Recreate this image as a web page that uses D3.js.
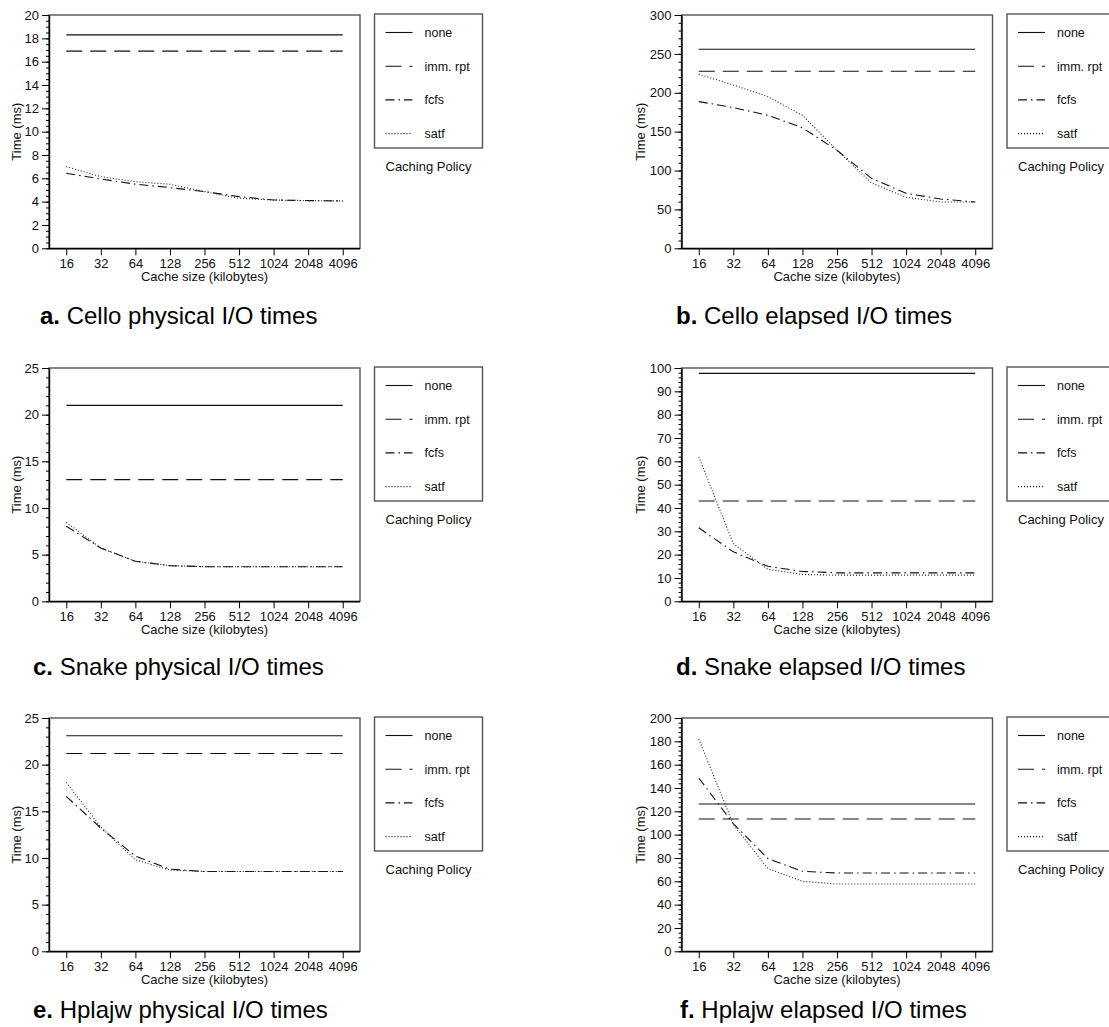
<!DOCTYPE html>
<html>
<head>
<meta charset="utf-8">
<script src="https://cdn.jsdelivr.net/npm/d3@7"></script>
<style>
  html, body { margin: 0; padding: 0; background: #fff; }
  svg { display: block; font-family: "Liberation Sans", Arial, Helvetica, sans-serif; }
</style>
</head>
<body>
<svg id="chart" width="1109" height="1027"></svg>
<script>
// ---------- data ----------
const categories = ["16", "32", "64", "128", "256", "512", "1024", "2048", "4096"];
const policies = ["none", "imm. rpt", "fcfs", "satf"];
const panelLetters = ["a.", "b.", "c.", "d.", "e.", "f."];
const panelTitles = [
  "Cello physical I/O times", "Cello elapsed I/O times",
  "Snake physical I/O times", "Snake elapsed I/O times",
  "Hplajw physical I/O times", "Hplajw elapsed I/O times"
];
const yMax = [20, 300, 25, 100, 25, 200];
const yMajorStep = [2, 50, 5, 10, 5, 20];
const yMinorStep = [0.5, 10, 1, 2, 1, 4];

// a. Cello physical
const aNone = [18.3, 18.3, 18.3, 18.3, 18.3, 18.3, 18.3, 18.3, 18.3];
const aImm  = [16.9, 16.9, 16.9, 16.9, 16.9, 16.9, 16.9, 16.9, 16.9];
const aFcfs = [6.43, 5.94, 5.5, 5.2, 4.86, 4.43, 4.14, 4.09, 4.06];
const aSatf = [7.0, 6.14, 5.71, 5.49, 4.86, 4.29, 4.14, 4.09, 4.06];
// b. Cello elapsed
const bNone = [255.9, 255.9, 255.9, 255.9, 255.9, 255.9, 255.9, 255.9, 255.9];
const bImm  = [227.6, 227.6, 227.6, 227.6, 227.6, 227.6, 227.6, 227.6, 227.6];
const bFcfs = [188.6, 181, 171, 155, 126, 90, 70.7, 63.4, 59.6];
const bSatf = [224, 210, 195, 171, 126, 84, 65.6, 59.6, 59.6];
// c. Snake physical
const cNone = [21, 21, 21, 21, 21, 21, 21, 21, 21];
const cImm  = [13.04, 13.04, 13.04, 13.04, 13.04, 13.04, 13.04, 13.04, 13.04];
const cFcfs = [8.04, 5.71, 4.29, 3.82, 3.71, 3.71, 3.71, 3.71, 3.71];
const cSatf = [8.46, 5.71, 4.29, 3.82, 3.71, 3.71, 3.71, 3.71, 3.71];
// d. Snake elapsed
const dNone = [97.7, 97.7, 97.7, 97.7, 97.7, 97.7, 97.7, 97.7, 97.7];
const dImm  = [43, 43, 43, 43, 43, 43, 43, 43, 43];
const dFcfs = [31.5, 21.2, 15, 12.8, 12.2, 12.2, 12.2, 12.2, 12.2];
const dSatf = [61.9, 24.7, 13.7, 11.5, 11.2, 11.2, 11.2, 11.2, 11.2];
// e. Hplajw physical
const eNone = [23.1, 23.1, 23.1, 23.1, 23.1, 23.1, 23.1, 23.1, 23.1];
const eImm  = [21.2, 21.2, 21.2, 21.2, 21.2, 21.2, 21.2, 21.2, 21.2];
const eFcfs = [16.6, 13.2, 10.2, 8.8, 8.55, 8.55, 8.55, 8.55, 8.55];
const eSatf = [18.1, 13.3, 9.8, 8.7, 8.55, 8.55, 8.55, 8.55, 8.55];
// f. Hplajw elapsed
const fNone = [126.3, 126.3, 126.3, 126.3, 126.3, 126.3, 126.3, 126.3, 126.3];
const fImm  = [113.4, 113.4, 113.4, 113.4, 113.4, 113.4, 113.4, 113.4, 113.4];
const fFcfs = [148.6, 109.4, 79.4, 68.6, 67.1, 67.1, 67.1, 67.1, 67.1];
const fSatf = [182, 108.6, 70.9, 60, 57.7, 57.7, 57.7, 57.7, 57.7];

const panelSeries = [
  [aNone, aImm, aFcfs, aSatf],
  [bNone, bImm, bFcfs, bSatf],
  [cNone, cImm, cFcfs, cSatf],
  [dNone, dImm, dFcfs, dSatf],
  [eNone, eImm, eFcfs, eSatf],
  [fNone, fImm, fFcfs, fSatf]
];

// ---------- layout & style ----------
const colLeft = [49, 681.5];
const rowTop = [15, 368, 718];
const plotW = 311, plotH = 233.3;
const yTitleX = [16, 640];
const captionX = [40, 676, 33, 676, 33, 680];
const captionY = [324, 324, 675, 675, 1018, 1018];
const dashes = [null, "16,8", "9,4,1.5,4", "1,2"];
const FONT = 13;

const svg = d3.select("#chart");

function styleAxis(s) {
  s.attr("font-family", null).attr("font-size", null);
  s.selectAll("text").attr("font-size", FONT).attr("fill", "#111");
}

panelSeries.forEach((series, p) => {
  const col = p % 2, row = Math.floor(p / 2);
  const left = colLeft[col], top = rowTop[row];
  const g = svg.append("g");

  const x = d3.scalePoint().domain(categories).range([left, left + plotW]).padding(0.5);
  const y = d3.scaleLinear().domain([0, yMax[p]]).range([top + plotH, top]);

  // frame (top and right)
  g.append("rect")
    .attr("x", left).attr("y", top).attr("width", plotW).attr("height", plotH)
    .attr("fill", "none").attr("stroke", "#555").attr("stroke-width", 1.4);

  // minor y ticks
  const minor = d3.range(0, yMax[p] + 1e-9, yMinorStep[p]);
  g.append("g")
    .attr("transform", `translate(${left},0)`)
    .call(d3.axisLeft(y).tickValues(minor).tickSize(3).tickFormat(""))
    .call(s => s.select(".domain").remove());

  // major y axis
  const major = d3.range(0, yMax[p] + 1e-9, yMajorStep[p]);
  g.append("g")
    .attr("transform", `translate(${left},0)`)
    .call(d3.axisLeft(y).tickValues(major).tickSize(7).tickSizeOuter(0).tickPadding(3))
    .call(styleAxis)
    .call(s => s.select(".domain").attr("stroke-width", 1.4));

  // x axis
  g.append("g")
    .attr("transform", `translate(0,${top + plotH})`)
    .call(d3.axisBottom(x).tickSize(7).tickSizeOuter(0).tickPadding(3))
    .call(styleAxis)
    .call(s => s.select(".domain").attr("d", `M${left},0.5H${left + plotW}`).attr("stroke-width", 1.4));

  // axis titles
  g.append("text")
    .attr("x", left + plotW / 2).attr("y", top + plotH + 32.5)
    .attr("text-anchor", "middle").attr("font-size", FONT).attr("fill", "#111")
    .text("Cache size (kilobytes)");
  g.append("text")
    .attr("transform", `translate(${yTitleX[col]},${top + plotH / 2}) rotate(-90)`)
    .attr("text-anchor", "middle").attr("dy", "0.35em").attr("font-size", FONT).attr("fill", "#111")
    .text("Time (ms)");

  // lines
  const line = d3.line().x((d, i) => x(categories[i])).y(d => y(d));
  series.forEach((vals, s) => {
    g.append("path")
      .datum(vals)
      .attr("d", line)
      .attr("fill", "none")
      .attr("stroke", s === 3 ? "#222" : "#111")
      .attr("stroke-width", 1.1)
      .attr("stroke-dasharray", dashes[s]);
  });

  // legend
  const lx = left + plotW + 14.5, ly = top - 1;
  const lg = g.append("g");
  lg.append("rect")
    .attr("x", lx).attr("y", ly).attr("width", 108).attr("height", 134)
    .attr("fill", "none").attr("stroke", "#555").attr("stroke-width", 1.4);
  policies.forEach((name, s) => {
    const cy = ly + 18.5 + s * 33.7;
    lg.append("line")
      .attr("x1", lx + 11).attr("x2", lx + 38).attr("y1", cy).attr("y2", cy)
      .attr("stroke", "#111").attr("stroke-width", 1.1)
      .attr("stroke-dasharray", dashes[s]);
    lg.append("text")
      .attr("x", lx + 50).attr("y", cy).attr("dy", "0.35em")
      .attr("font-size", 12.5).attr("fill", "#111")
      .text(name);
  });
  lg.append("text")
    .attr("x", lx + 54).attr("y", ly + 152).attr("dy", "0.35em")
    .attr("text-anchor", "middle").attr("font-size", FONT).attr("fill", "#111")
    .text("Caching Policy");

  // caption
  const cap = svg.append("text")
    .attr("x", captionX[p]).attr("y", captionY[p])
    .attr("font-size", 24).attr("fill", "#000");
  cap.append("tspan").attr("font-weight", "bold").text(panelLetters[p]);
  cap.append("tspan").text(" " + panelTitles[p]);
});
</script>
</body>
</html>
